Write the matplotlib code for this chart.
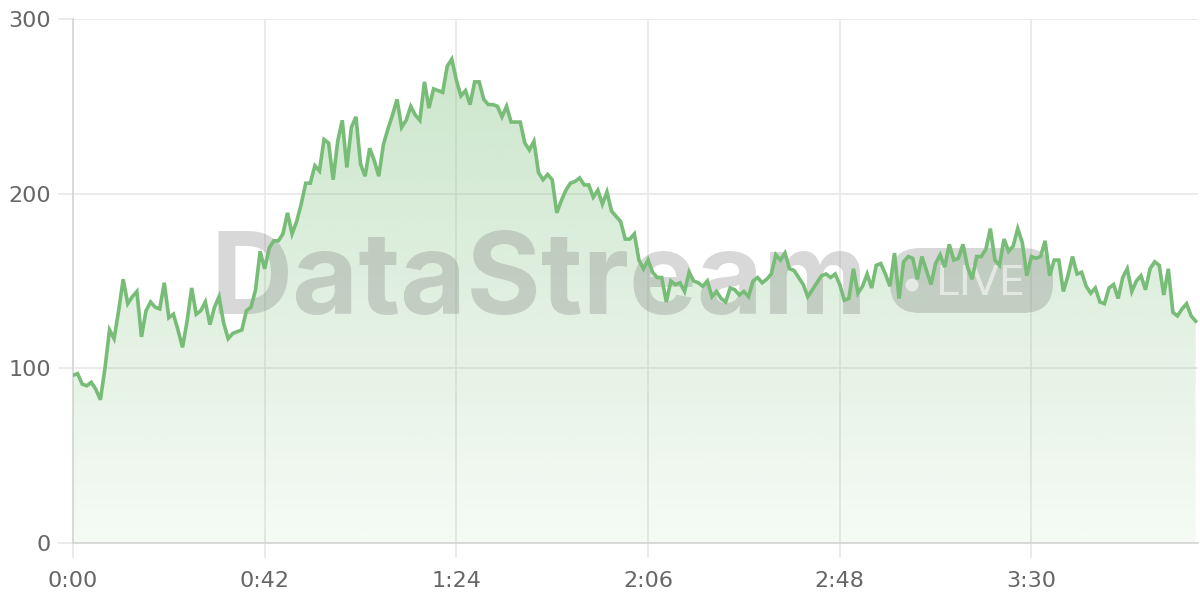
import numpy as np
import matplotlib
matplotlib.use("Agg")
import matplotlib.pyplot as plt
import matplotlib.transforms as mtransforms
from matplotlib.patches import FancyBboxPatch, Circle

# ---- data (one sample per second) ----
values = [
    96, 97, 91, 90, 92, 88, 82, 100, 122, 117,
    133, 151, 137, 141, 144, 118, 133, 138, 135, 134,
    149, 129, 131, 122, 112, 127, 146, 131, 133, 138,
    125, 135, 141, 126, 117, 120, 121, 122, 133, 135,
    145, 167, 157, 169, 173, 173, 177, 189, 177, 184,
    194, 206, 206, 216, 213, 231, 229, 208, 230, 242,
    215, 238, 244, 217, 210, 226, 219, 210, 228, 237,
    245, 254, 238, 242, 250, 245, 242, 264, 249, 260,
    259, 258, 273, 277, 265, 256, 259, 251, 264, 264,
    254, 251, 251, 250, 244, 250, 241, 241, 241, 229,
    225, 230, 212, 208, 211, 208, 189, 196, 202, 206,
    207, 209, 205, 205, 198, 202, 194, 201, 190, 187,
    184, 174, 174, 177, 162, 157, 162, 155, 152, 152,
    138, 150, 148, 149, 144, 155, 150, 149, 147, 150,
    141, 144, 140, 138, 146, 145, 142, 144, 141, 150,
    152, 149, 151, 154, 165, 162, 166, 157, 156, 152,
    148, 141, 145, 149, 153, 154, 152, 154, 148, 139,
    140, 157, 143, 147, 154, 146, 159, 160, 154, 147,
    166, 140, 161, 164, 163, 151, 164, 156, 148, 160,
    165, 158, 171, 162, 163, 171, 158, 151, 164, 164,
    168, 180, 162, 159, 174, 167, 170, 180, 172, 153,
    164, 163, 164, 173, 153, 162, 162, 144, 153, 164,
    154, 155, 147, 143, 146, 138, 137, 146, 148, 140,
    152, 157, 144, 150, 153, 145, 157, 161, 159, 142,
    157, 132, 130, 134, 137, 130, 127,
]
seconds = list(range(len(values)))
x_ticks = [0, 42, 84, 126, 168, 210]
x_tick_labels = ["0:00", "0:42", "1:24", "2:06", "2:48", "3:30"]
y_ticks = [0, 100, 200, 300]
y_tick_labels = ["0", "100", "200", "300"]
watermark_main = "DataStream"
watermark_badge = "LIVE"

LINE = "#77bc77"
GRID = "#e8e8e8"
SPINE = "#d4d4d4"
TEXT = "#666666"
FONT = ["Inter", "DejaVu Sans"]

fig = plt.figure(figsize=(12, 6), dpi=100)
ax = fig.add_axes([73 / 1200, 1 - 543 / 600, (1198 - 73) / 1200, (543 - 19) / 600])

t = np.array(seconds, dtype=float)
v = np.array(values, dtype=float)

# gradient fill
poly = ax.fill_between(t, v, 0, facecolor="none", edgecolor="none")
path = poly.get_paths()[0]
n = 256
rgb = matplotlib.colors.to_rgb(LINE)
grad = np.zeros((n, 1, 4))
grad[..., 0] = rgb[0]
grad[..., 1] = rgb[1]
grad[..., 2] = rgb[2]
grad[:, 0, 3] = np.linspace(0.07, 0.40, n)
im = ax.imshow(grad, extent=[0, 246.5, 0, 300], origin="lower", aspect="auto", zorder=1,
               interpolation="bilinear")
im.set_clip_path(path, transform=ax.transData)

# watermark (pixel coordinates)
pix = mtransforms.Affine2D().scale(1 / 1200, -1 / 600).translate(0, 1) + fig.transFigure
ax.text(211, 314, watermark_main, transform=pix, fontsize=82, fontweight="bold",
        family=FONT, color="#808080", alpha=0.30, ha="left", va="baseline", zorder=2)
badge = FancyBboxPatch((890, 248), 163, 65, boxstyle="round,pad=0,rounding_size=30",
                       transform=pix, facecolor="#808080", edgecolor="none", alpha=0.30, zorder=2)
ax.add_patch(badge)
dot = Circle((912, 285), 6.5, transform=pix, facecolor="white", edgecolor="none", alpha=0.55, zorder=2)
ax.add_patch(dot)
ax.text(936, 295, watermark_badge, transform=pix, fontsize=29.5, family="DejaVu Sans",
        color="white", alpha=0.55, ha="left", va="baseline", zorder=2)

# line
ax.plot(t, v, color=LINE, linewidth=2.6, zorder=3, solid_joinstyle="miter")

ax.set_xlim(0, 246.5)
ax.set_ylim(0, 300)
ax.set_xticks(x_ticks)
ax.set_xticklabels(x_tick_labels)
ax.set_yticks(y_ticks)
ax.set_yticklabels(y_tick_labels)
ax.grid(True, color=GRID, linewidth=1.2, zorder=0)
ax.set_axisbelow(True)
for s in ["top", "right"]:
    ax.spines[s].set_visible(False)
for s in ["left", "bottom"]:
    ax.spines[s].set_color(SPINE)
    ax.spines[s].set_linewidth(1.2)
ax.tick_params(axis="both", length=11, width=1.2, color=GRID, labelcolor=TEXT, labelsize=16)
ax.tick_params(axis="x", pad=9)
ax.tick_params(axis="y", pad=5)
for lab in ax.get_xticklabels() + ax.get_yticklabels():
    lab.set_family("DejaVu Sans")

fig.savefig("out.png", dpi=100, facecolor="white")
